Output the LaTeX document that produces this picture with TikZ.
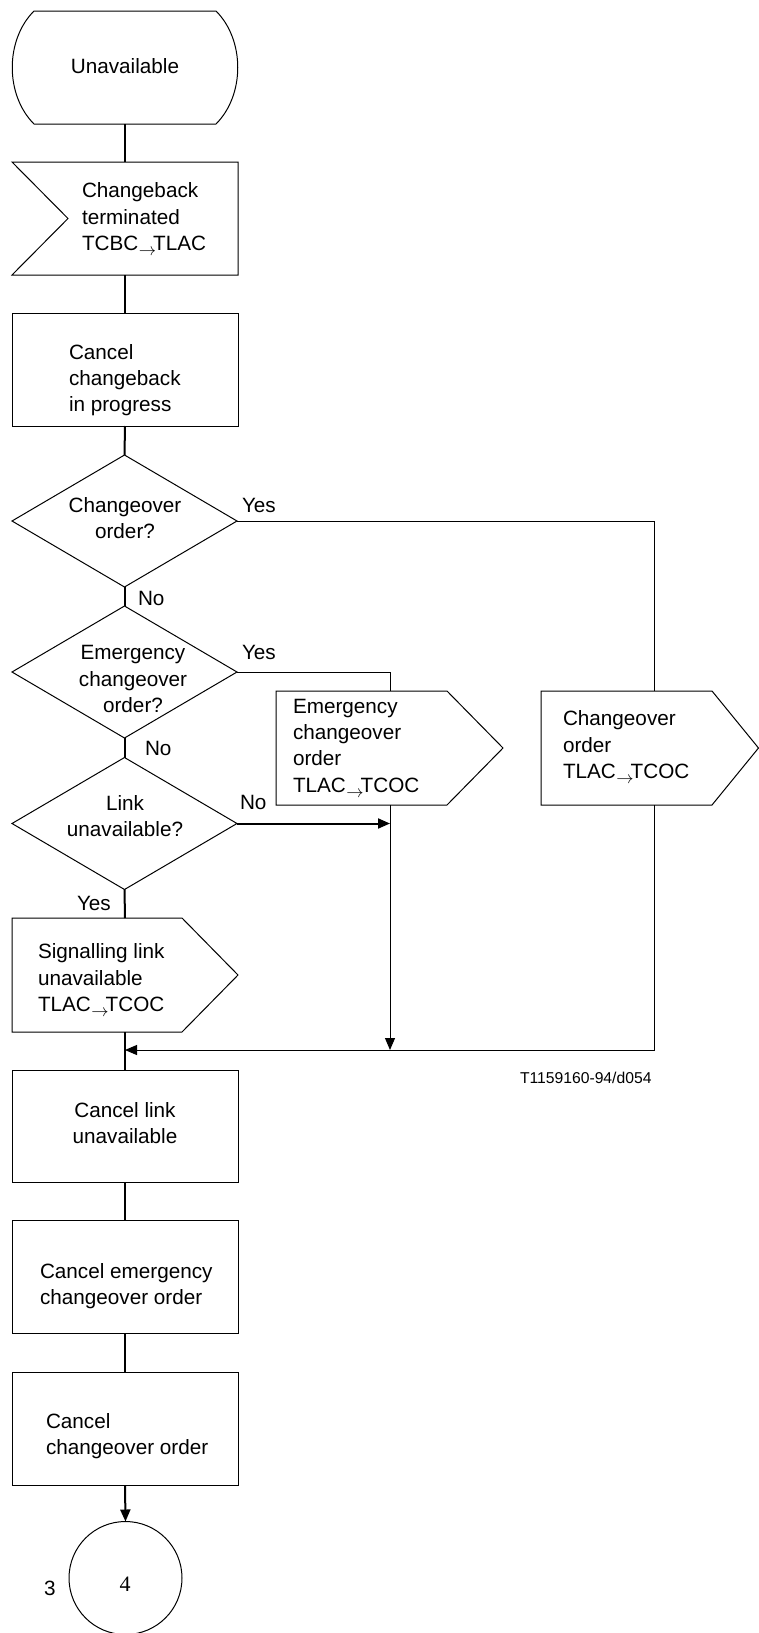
\documentclass[tikz,border=0pt]{standalone}
\usepackage{fontspec}
\setmainfont{Liberation Sans}
\newfontfamily\seriffont{Liberation Serif}
\usetikzlibrary{shapes.geometric,arrows.meta}
\newcommand{\sarr}{\kern0.5pt\raisebox{-5pt}{\fontsize{19}{19}\selectfont$\rightarrow$}\kern-3pt}
\begin{document}
\begin{tikzpicture}[x=1pt,y=-1pt,
  every node/.style={font=\fontsize{20.7}{26.3}\selectfont, inner sep=0pt, outer sep=0pt},
  shp/.style={draw, line width=1pt},
  boxnode/.style={shp, rectangle, minimum width=226pt, minimum height=113pt},
  dia/.style={shp, diamond, minimum width=225pt, minimum height=132pt},
  mainline/.style={line width=2pt},
  sideline/.style={line width=1pt},
  arr/.style={-{Triangle[length=12pt,width=10pt]}},
  lbl/.style={anchor=base west},
  txt/.style={align=left, anchor=west},
  ctxt/.style={align=center}
]
\useasboundingbox (0,0) rectangle (759,1633);

% state
\draw[shp] (34,11) -- (216,11) .. controls (245,40) and (245,95) .. (216,124)
  -- (34,124) .. controls (5,95) and (5,40) .. (34,11) -- cycle;
\coordinate (st-s) at (125,124);
\node (st) at (125,66) {Unavailable};

% input signal
\draw[shp] (12,162) -- (238,162) -- (238,275) -- (12,275) -- (68,218.5) -- cycle;
\coordinate (in-n) at (125,162);
\coordinate (in-s) at (125,275);
\node[txt] (intxt) at (82,219) {Changeback\\terminated\\TCBC\sarr TLAC};

% cancel changeback
\node[boxnode] (cb) at (125,369.5) {};
\node[txt] (cbtxt) at (69,380) {Cancel\\changeback\\in progress};

% decisions
\node[dia] (d1) at (124.5,521) {};
\node[ctxt] (d1t) at (125,518) {Changeover\\order?};
\node[dia] (d2) at (124.5,672) {};
\node[ctxt] (d2t) at (133,679) {Emergency\\changeover\\order?};
\node[dia] (d3) at (124.5,823.5) {};
\node[ctxt] (d3t) at (125,816) {Link\\unavailable?};

% output: emergency changeover order
\draw[shp] (276,691) -- (447,691) -- (503,748) -- (447,805) -- (276,805) -- cycle;
\coordinate (eo-n) at (390,691);
\coordinate (eo-s) at (390,805);
\node[txt] (eot) at (293,748) {Emergency\\changeover\\order\\TLAC\sarr TCOC};

% output: changeover order
\draw[shp] (541,691) -- (712,691) -- (758.5,748) -- (712,805) -- (541,805) -- cycle;
\coordinate (co-n) at (654,691);
\coordinate (co-s) at (654,805);
\node[txt] (cot) at (563,747) {Changeover\\order\\TLAC\sarr TCOC};

% output: signalling link unavailable
\draw[shp] (12,918) -- (182,918) -- (238,975) -- (182,1032) -- (12,1032) -- cycle;
\coordinate (sl-n) at (125,918);
\coordinate (sl-s) at (125,1032);
\node[txt] (slt) at (38,980) {Signalling link\\unavailable\\TLAC\sarr TCOC};

% tasks
\node[boxnode, minimum height=112pt] (t1) at (125,1126) {};
\node[ctxt] (t1t) at (125,1123) {Cancel link\\unavailable};
\node[boxnode] (t2) at (125,1277) {};
\node[txt] (t2t) at (40,1286) {Cancel emergency\\changeover order};
\node[boxnode] (t3) at (125,1428.5) {};
\node[txt] (t3t) at (46,1436) {Cancel\\changeover order};

% connector
\node[shp, circle, minimum size=113pt] (con) at (125.5,1578) {};
\node[font=\fontsize{22}{22}\selectfont] (cont) at (125,1584) {\seriffont 4};
\node[lbl] (page) at (44,1595) {3};

% join points
\coordinate (j1) at (654,521);
\coordinate (j2) at (390,672);
\coordinate (j3) at (390,823.5);
\coordinate (j4) at (390,1050);
\coordinate (j5) at (654,1050);
\coordinate (j6) at (125,1050);

% main connectors
\draw[mainline] (st-s) -- (in-n);
\draw[mainline] (in-s) -- (cb.north);
\draw[mainline] (cb.south) -- (d1.north);
\draw[mainline] (d1.south) -- (d2.north);
\draw[mainline] (d2.south) -- (d3.north);
\draw[mainline] (d3.south) -- (sl-n);
\draw[mainline] (sl-s) -- (t1.north);
\draw[mainline] (t1.south) -- (t2.north);
\draw[mainline] (t2.south) -- (t3.north);
\draw[mainline, arr] (t3.south) -- (con.north);

% side connectors
\draw[sideline] (d1.east) -- (j1) -- (co-n);
\draw[sideline] (d2.east) -- (j2) -- (eo-n);
\draw[mainline, arr] (d3.east) -- (j3);
\draw[sideline, arr] (eo-s) -- (j4);
\draw[sideline, arr] (co-s) -- (j5) -- (j6);

% labels
\node[lbl] (y1) at (242,512) {Yes};
\node[lbl] (n1) at (138,605) {No};
\node[lbl] (y2) at (242,659) {Yes};
\node[lbl] (n2) at (145,755) {No};
\node[lbl] (n3) at (240,809) {No};
\node[lbl] (y3) at (77,910) {Yes};
\node[lbl, font=\fontsize{15.7}{18}\selectfont] (ref) at (520,1083) {T1159160-94/d054};
\end{tikzpicture}
\end{document}
